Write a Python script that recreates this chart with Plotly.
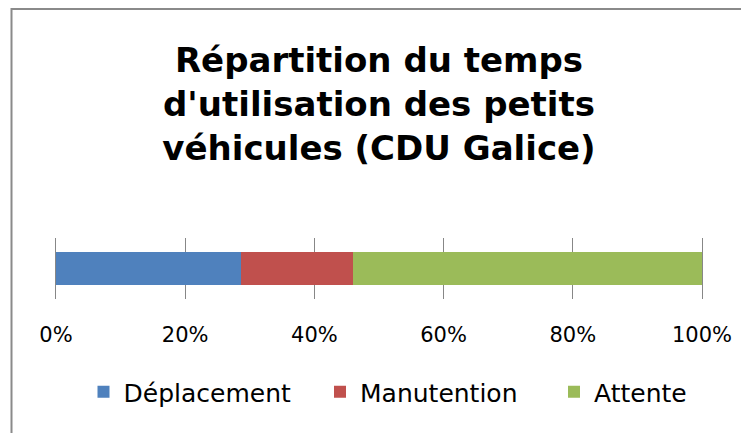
import plotly.graph_objects as go

# Data (share of usage time, fraction of total)
categories = [""]
series_names = ["Déplacement", "Manutention", "Attente"]
series_values = [[0.287], [0.173], [0.540]]
series_colors = ["#4F81BD", "#C0504D", "#9BBB59"]
tick_values = [0, 0.2, 0.4, 0.6, 0.8, 1.0]
tick_labels = ["0%", "20%", "40%", "60%", "80%", "100%"]
title_text = "Répartition du temps<br>d'utilisation des petits<br>véhicules (CDU Galice)"

# page body has an 8px margin, so figure coordinates = screen - 8
W, H = 741, 425
T, B = 230, 134
PX0, PX1 = 48, 694          # plot area left/right in figure px
PH = H - T - B
legend_ids = ["legend", "legend2", "legend3"]
legend_starts = [75.5, 312, 546]   # figure px where each legend entry starts

fig = go.Figure()
for name, vals, col, lid in zip(series_names, series_values, series_colors, legend_ids):
    fig.add_trace(go.Bar(
        y=categories, x=vals, name=name, orientation="h",
        marker=dict(color=col, line=dict(width=0)),
        hoverinfo="skip", legend=lid,
    ))

legend_style = dict(
    orientation="h", xanchor="left", yanchor="middle",
    y=(H - B - 384) / PH,
    font=dict(family="DejaVu Sans", size=25, color="#000000"),
    bgcolor="rgba(0,0,0,0)", borderwidth=0,
)

fig.update_layout(
    width=W, height=H,
    margin=dict(l=0, r=0, t=T, b=B, pad=0, autoexpand=False),
    barmode="stack",
    bargap=0.46,
    paper_bgcolor="white",
    plot_bgcolor="white",
    font=dict(family="DejaVu Sans", color="#000000"),
    title=dict(
        text=title_text,
        font=dict(family="DejaVu Sans", size=34, color="#000000", weight="bold"),
        x=(PX0 + PX1) / 2 / W, xref="paper", xanchor="center",
        y=1 - 64 / H, yref="container", yanchor="middle",
    ),
    xaxis=dict(
        domain=[PX0 / W, PX1 / W],
        range=[0, 1],
        automargin=False,
        tickvals=tick_values, ticktext=tick_labels,
        showgrid=True, gridcolor="#878787", gridwidth=1,
        zeroline=False, showline=False,
        ticks="outside", ticklen=0, tickcolor="rgba(0,0,0,0)",
        ticklabelstandoff=17,
        tickfont=dict(family="DejaVu Sans", size=21, color="#000000"),
        fixedrange=True,
    ),
    yaxis=dict(
        automargin=False,
        showgrid=False, zeroline=False,
        showline=True, linecolor="#878787", linewidth=1, mirror=True,
        showticklabels=False, ticks="", fixedrange=True,
    ),
    showlegend=True,
    shapes=[dict(
        type="rect", xref="paper", yref="paper",
        x0=3.5 / W, x1=1.3,
        y0=-4.0, y1=(H - B - 1) / PH,
        line=dict(color="#8a8a8a", width=2), fillcolor="rgba(0,0,0,0)",
        layer="below",
    )],
)
for lid, start in zip(legend_ids, legend_starts):
    fig.update_layout({lid: dict(legend_style, x=start / W)})

fig.write_html("out.html")
